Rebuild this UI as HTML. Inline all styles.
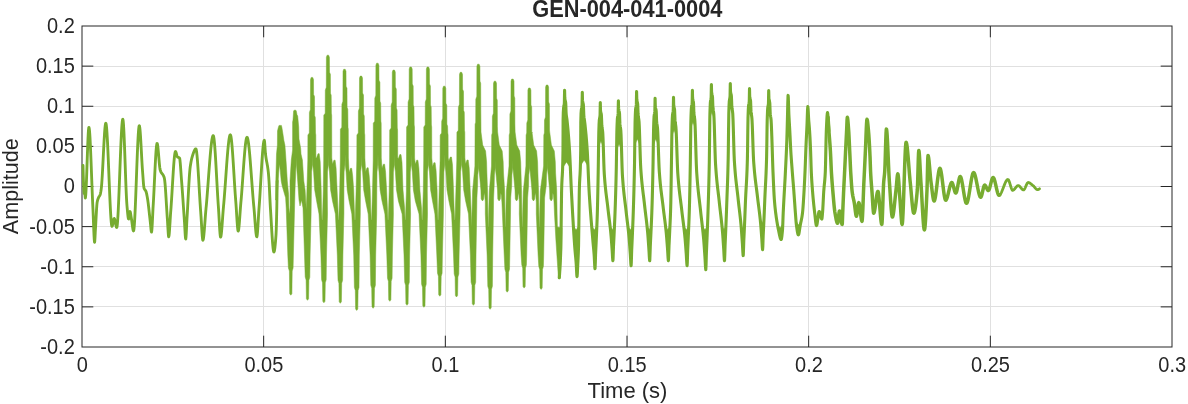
<!DOCTYPE html>
<html lang="en"><head><meta charset="utf-8"><title>GEN-004-041-0004</title>
<style>
html,body{margin:0;padding:0;background:#fff;}
body{width:1188px;height:404px;overflow:hidden;}
svg{display:block;}
text{font-family:"Liberation Sans",Arial,Helvetica,sans-serif;fill:#262626;}
.tk{font-size:20px;}
.lb{font-size:22px;}
.tt{font-size:21.8px;font-weight:bold;}
</style></head><body>
<svg width="1188" height="404" viewBox="0 0 1188 404">
<rect x="0" y="0" width="1188" height="404" fill="#ffffff"/>
<g stroke="#e0e0e0" stroke-width="1" shape-rendering="crispEdges">
<line x1="263.67" y1="26" x2="263.67" y2="347"/>
<line x1="445.33" y1="26" x2="445.33" y2="347"/>
<line x1="627.0" y1="26" x2="627.0" y2="347"/>
<line x1="808.67" y1="26" x2="808.67" y2="347"/>
<line x1="990.33" y1="26" x2="990.33" y2="347"/>
<line x1="82" y1="66.12" x2="1172" y2="66.12"/>
<line x1="82" y1="106.25" x2="1172" y2="106.25"/>
<line x1="82" y1="146.38" x2="1172" y2="146.38"/>
<line x1="82" y1="186.5" x2="1172" y2="186.5"/>
<line x1="82" y1="226.62" x2="1172" y2="226.62"/>
<line x1="82" y1="266.75" x2="1172" y2="266.75"/>
<line x1="82" y1="306.88" x2="1172" y2="306.88"/>
</g>
<g stroke="#262626" stroke-width="1" fill="none">
<rect x="82.0" y="26.0" width="1090" height="321"/>
<line x1="263.67" y1="347" x2="263.67" y2="335.7"/>
<line x1="263.67" y1="26" x2="263.67" y2="37.3"/>
<line x1="445.33" y1="347" x2="445.33" y2="335.7"/>
<line x1="445.33" y1="26" x2="445.33" y2="37.3"/>
<line x1="627.0" y1="347" x2="627.0" y2="335.7"/>
<line x1="627.0" y1="26" x2="627.0" y2="37.3"/>
<line x1="808.67" y1="347" x2="808.67" y2="335.7"/>
<line x1="808.67" y1="26" x2="808.67" y2="37.3"/>
<line x1="990.33" y1="347" x2="990.33" y2="335.7"/>
<line x1="990.33" y1="26" x2="990.33" y2="37.3"/>
<line x1="82" y1="66.12" x2="93.3" y2="66.12"/>
<line x1="1172" y1="66.12" x2="1160.7" y2="66.12"/>
<line x1="82" y1="106.25" x2="93.3" y2="106.25"/>
<line x1="1172" y1="106.25" x2="1160.7" y2="106.25"/>
<line x1="82" y1="146.38" x2="93.3" y2="146.38"/>
<line x1="1172" y1="146.38" x2="1160.7" y2="146.38"/>
<line x1="82" y1="186.5" x2="93.3" y2="186.5"/>
<line x1="1172" y1="186.5" x2="1160.7" y2="186.5"/>
<line x1="82" y1="226.62" x2="93.3" y2="226.62"/>
<line x1="1172" y1="226.62" x2="1160.7" y2="226.62"/>
<line x1="82" y1="266.75" x2="93.3" y2="266.75"/>
<line x1="1172" y1="266.75" x2="1160.7" y2="266.75"/>
<line x1="82" y1="306.88" x2="93.3" y2="306.88"/>
<line x1="1172" y1="306.88" x2="1160.7" y2="306.88"/>
</g>
<polyline fill="none" stroke="#77ac30" stroke-width="2.85" stroke-linejoin="round" stroke-linecap="round" points="83.00,165.50 83.25,174.98 83.50,182.59 83.70,187.00 83.75,187.91 84.00,192.07 84.20,193.50 84.25,193.37 84.50,190.97 84.60,190.50 84.75,191.39 85.00,195.05 85.25,197.89 85.30,198.00 85.50,197.37 85.75,194.97 86.00,191.03 86.25,185.85 86.50,179.70 86.75,172.87 87.00,165.64 87.25,158.30 87.50,151.13 87.75,144.41 88.00,138.43 88.25,133.47 88.50,129.82 88.75,127.76 88.90,127.40 89.00,127.50 89.25,128.58 89.50,130.76 89.75,133.92 90.00,137.94 90.25,142.70 90.50,148.08 90.75,153.96 91.00,160.23 91.25,166.77 91.50,173.45 91.75,180.16 92.00,186.78 92.25,193.19 92.50,199.28 92.75,204.91 92.89,207.83 93.00,210.18 93.25,216.29 93.50,222.95 93.75,229.50 94.00,235.30 94.25,239.71 94.50,242.07 94.60,242.30 94.75,241.49 95.00,237.57 95.25,232.50 95.38,230.21 95.50,228.27 95.75,223.86 96.00,219.16 96.25,214.48 96.50,210.11 96.75,206.34 97.00,203.46 97.20,202.00 97.25,201.75 97.50,200.63 97.75,199.73 98.00,198.98 98.25,198.33 98.50,197.74 98.60,197.50 98.75,197.17 99.00,196.71 99.25,196.33 99.50,195.95 99.75,195.54 100.00,195.02 100.20,194.50 100.25,194.35 100.50,193.34 100.75,192.00 101.00,190.41 101.20,189.00 101.25,188.62 101.50,186.30 101.75,183.31 102.00,179.76 102.25,175.74 102.50,171.35 102.75,166.68 103.00,161.82 103.25,156.87 103.50,151.93 103.75,147.08 104.00,142.43 104.25,138.07 104.50,134.08 104.75,130.58 105.00,127.64 105.25,125.38 105.50,123.87 105.75,123.22 105.80,123.20 106.00,123.51 106.25,124.75 106.50,126.85 106.75,129.72 107.00,133.29 107.25,137.48 107.50,142.20 107.75,147.38 108.00,152.93 108.25,158.77 108.50,164.83 108.75,171.01 109.00,177.24 109.25,183.44 109.50,189.53 109.75,195.42 110.00,201.04 110.25,206.30 110.50,211.12 110.75,215.42 111.00,219.12 111.25,222.14 111.50,224.40 111.75,225.81 112.00,226.30 112.25,226.02 112.50,225.27 112.75,224.20 113.00,222.93 113.25,221.61 113.50,220.37 113.75,219.35 114.00,218.68 114.20,218.50 114.25,218.51 114.50,218.86 114.75,219.62 115.00,220.67 115.25,221.93 115.50,223.27 115.75,224.59 116.00,225.78 116.25,226.73 116.50,227.34 116.70,227.50 116.75,227.48 117.00,226.74 117.25,225.02 117.50,222.41 117.75,218.99 118.00,214.85 118.25,210.09 118.50,204.80 118.75,199.05 119.00,192.95 119.25,186.58 119.50,180.04 119.75,173.40 120.00,166.76 120.25,160.22 120.50,153.85 120.75,147.75 121.00,142.00 121.25,136.71 121.50,131.95 121.75,127.81 122.00,124.39 122.25,121.78 122.50,120.06 122.75,119.32 122.80,119.30 123.00,119.77 123.25,121.60 123.50,124.66 123.75,128.78 124.00,133.81 124.25,139.58 124.50,145.93 124.75,152.70 125.00,159.74 125.25,166.87 125.50,173.94 125.75,180.78 126.00,187.24 126.25,193.15 126.50,198.36 126.75,202.69 127.00,206.00 127.25,208.80 127.50,211.60 127.75,214.21 128.00,216.43 128.25,218.06 128.50,218.92 128.60,219.00 128.75,218.76 129.00,217.51 129.25,215.65 129.50,213.69 129.75,212.13 130.00,211.50 130.25,211.92 130.50,213.01 130.75,214.51 131.00,216.17 131.25,217.72 131.30,218.00 131.50,219.19 131.75,220.92 132.00,222.83 132.25,224.78 132.50,226.66 132.75,228.33 133.00,229.67 133.25,230.57 133.50,230.90 133.75,230.33 134.00,228.69 134.25,226.08 134.50,222.60 134.75,218.35 135.00,213.43 135.25,207.95 135.50,202.00 135.75,195.69 136.00,189.11 136.25,182.38 136.50,175.58 136.75,168.82 137.00,162.21 137.25,155.84 137.50,149.81 137.75,144.22 138.00,139.19 138.25,134.79 138.50,131.15 138.75,128.36 139.00,126.52 139.25,125.72 139.30,125.70 139.50,126.05 139.75,127.39 140.00,129.61 140.25,132.58 140.50,136.16 140.75,140.22 141.00,144.63 141.25,149.24 141.50,153.92 141.75,158.55 142.00,162.97 142.25,167.07 142.50,170.71 142.60,172.00 142.75,173.95 143.00,177.45 143.25,180.95 143.50,184.11 143.75,186.57 144.00,188.00 144.25,188.69 144.50,189.20 144.75,189.58 145.00,189.89 145.25,190.19 145.50,190.52 145.75,190.94 146.00,191.50 146.25,192.27 146.50,193.24 146.75,194.39 147.00,195.68 147.25,197.06 147.50,198.50 147.75,200.07 148.00,201.83 148.25,203.77 148.50,205.84 148.75,208.02 149.00,210.27 149.25,212.57 149.50,214.88 149.75,217.18 150.00,219.43 150.25,221.60 150.30,222.02 150.50,223.93 150.75,226.69 151.00,229.33 151.25,231.32 151.50,232.10 151.75,231.01 152.00,228.09 152.25,223.86 152.50,218.86 152.75,213.60 153.00,208.61 153.18,205.49 153.25,204.36 153.50,200.04 153.75,195.34 154.00,190.35 154.25,185.18 154.50,179.91 154.75,174.65 155.00,169.49 155.25,164.53 155.50,159.87 155.75,155.59 156.00,151.81 156.25,148.61 156.50,146.09 156.75,144.35 157.00,143.48 157.10,143.40 157.25,143.56 157.50,144.47 157.75,146.07 158.00,148.22 158.25,150.79 158.50,153.64 158.75,156.64 159.00,159.65 159.25,162.54 159.50,165.17 159.75,167.40 160.00,169.11 160.20,170.00 160.25,170.16 160.50,170.89 160.75,171.52 161.00,172.05 161.25,172.50 161.50,172.89 161.75,173.24 162.00,173.56 162.25,173.87 162.50,174.18 162.75,174.51 163.00,174.88 163.25,175.30 163.50,175.79 163.75,176.36 164.00,177.03 164.25,177.83 164.30,178.00 164.50,178.95 164.75,180.79 165.00,183.24 165.25,186.23 165.50,189.64 165.75,193.38 166.00,197.36 166.25,201.48 166.50,205.63 166.75,209.73 167.00,213.68 167.25,217.37 167.38,219.16 167.50,220.90 167.75,225.10 168.00,229.51 168.25,233.40 168.50,236.05 168.70,236.80 168.75,236.77 169.00,235.77 169.25,233.58 169.50,230.47 169.75,226.73 170.00,222.64 170.25,218.48 170.50,214.53 170.74,211.21 170.75,211.08 171.00,207.78 171.25,204.20 171.50,200.40 171.75,196.42 172.00,192.33 172.25,188.17 172.50,183.99 172.75,179.85 173.00,175.79 173.25,171.88 173.50,168.15 173.75,164.67 174.00,161.49 174.25,158.65 174.50,156.22 174.75,154.23 175.00,152.75 175.25,151.82 175.50,151.50 175.75,151.71 176.00,152.28 176.25,153.09 176.50,154.04 176.75,155.01 177.00,155.90 177.25,156.60 177.50,157.00 177.75,157.18 178.00,157.30 178.25,157.40 178.50,157.47 178.75,157.55 179.00,157.65 179.25,157.80 179.50,158.00 179.75,158.79 180.00,160.56 180.25,163.09 180.50,166.18 180.75,169.62 181.00,173.21 181.25,176.74 181.50,180.00 181.75,183.13 182.00,186.40 182.25,189.79 182.50,193.26 182.75,196.81 183.00,200.42 183.25,204.07 183.50,207.73 183.75,211.38 184.00,215.02 184.25,218.61 184.44,221.30 184.50,222.18 184.75,226.46 185.00,231.11 185.25,235.29 185.50,238.18 185.70,239.00 185.75,238.94 186.00,237.10 186.25,233.29 186.50,228.32 186.75,223.03 187.00,218.23 187.05,217.40 187.25,214.10 187.50,209.72 187.75,205.14 188.00,200.44 188.25,195.71 188.50,191.03 188.75,186.48 189.00,182.15 189.25,178.12 189.50,174.47 189.75,171.29 190.00,168.66 190.20,167.00 190.25,166.64 190.50,164.95 190.75,163.40 191.00,161.99 191.25,160.70 191.50,159.53 191.75,158.46 192.00,157.49 192.25,156.61 192.50,155.80 192.60,155.50 192.75,155.05 193.00,154.30 193.25,153.56 193.50,152.83 193.75,152.12 194.00,151.46 194.25,150.84 194.50,150.29 194.75,149.80 195.00,149.40 195.25,149.09 195.50,148.89 195.75,148.80 195.80,148.80 196.00,149.00 196.25,149.80 196.50,151.16 196.75,153.03 197.00,155.36 197.25,158.10 197.50,161.21 197.75,164.63 198.00,168.32 198.25,172.23 198.50,176.31 198.75,180.50 199.00,184.77 199.25,189.06 199.50,193.32 199.75,197.51 200.00,201.57 200.25,205.46 200.50,209.13 200.75,212.52 200.77,212.78 201.00,216.03 201.25,220.04 201.50,224.29 201.75,228.53 202.00,232.48 202.25,235.87 202.50,238.45 202.75,239.94 202.90,240.20 203.00,240.14 203.25,239.44 203.50,238.06 203.75,236.10 204.00,233.66 204.25,230.84 204.50,227.73 204.75,224.44 205.00,221.06 205.25,217.70 205.50,214.46 205.75,211.43 205.99,208.82 206.00,208.72 206.25,206.09 206.50,203.30 206.75,200.37 207.00,197.33 207.25,194.18 207.50,190.95 207.75,187.65 208.00,184.30 208.25,180.93 208.50,177.55 208.75,174.17 209.00,170.82 209.25,167.51 209.50,164.27 209.75,161.11 210.00,158.04 210.25,155.10 210.50,152.29 210.75,149.64 211.00,147.15 211.25,144.86 211.50,142.78 211.75,140.93 212.00,139.32 212.25,137.97 212.50,136.91 212.75,136.15 213.00,135.71 213.20,135.60 213.25,135.61 213.50,136.06 213.75,137.12 214.00,138.73 214.25,140.85 214.50,143.43 214.75,146.42 215.00,149.78 215.25,153.45 215.50,157.40 215.75,161.56 216.00,165.90 216.25,170.36 216.50,174.90 216.75,179.47 217.00,184.02 217.25,188.51 217.50,192.88 217.75,197.09 218.00,201.08 218.25,204.82 218.38,206.65 218.50,208.38 218.75,212.43 219.00,216.87 219.25,221.43 219.50,225.85 219.75,229.88 220.00,233.25 220.25,235.71 220.50,236.98 220.60,237.10 220.75,236.94 221.00,236.02 221.25,234.38 221.50,232.14 221.75,229.41 222.00,226.31 222.25,222.96 222.50,219.48 222.75,215.97 223.00,212.57 223.25,209.38 223.50,206.52 223.51,206.41 223.75,203.79 224.00,200.90 224.25,197.85 224.50,194.67 224.75,191.38 225.00,188.00 225.25,184.56 225.50,181.07 225.75,177.56 226.00,174.05 226.25,170.56 226.50,167.11 226.75,163.71 227.00,160.41 227.25,157.21 227.50,154.13 227.75,151.21 228.00,148.45 228.25,145.88 228.50,143.53 228.75,141.41 229.00,139.55 229.25,137.96 229.50,136.67 229.75,135.70 230.00,135.07 230.25,134.81 230.30,134.80 230.50,134.97 230.75,135.66 231.00,136.82 231.25,138.44 231.50,140.46 231.75,142.85 232.00,145.58 232.25,148.61 232.50,151.89 232.75,155.40 233.00,159.09 233.25,162.93 233.50,166.88 233.75,170.91 234.00,174.96 234.25,179.02 234.50,183.04 234.75,186.98 235.00,190.80 235.25,194.48 235.50,197.96 235.75,201.22 235.83,202.21 236.00,204.42 236.25,208.08 236.50,212.03 236.75,216.09 237.00,220.04 237.25,223.68 237.50,226.80 237.75,229.21 238.00,230.71 238.20,231.10 238.25,231.08 238.50,230.41 238.75,228.91 239.00,226.71 239.25,223.97 239.50,220.81 239.75,217.39 240.00,213.86 240.25,210.34 240.50,206.99 240.75,203.95 240.84,202.96 241.00,201.21 241.25,198.32 241.50,195.25 241.75,192.04 242.00,188.71 242.25,185.28 242.50,181.78 242.75,178.25 243.00,174.69 243.25,171.15 243.50,167.65 243.75,164.21 244.00,160.86 244.25,157.63 244.50,154.54 244.75,151.62 245.00,148.90 245.25,146.39 245.50,144.14 245.75,142.16 246.00,140.48 246.25,139.13 246.50,138.13 246.75,137.51 247.00,137.30 247.25,137.48 247.50,138.01 247.75,138.87 248.00,140.04 248.25,141.50 248.50,143.23 248.75,145.21 249.00,147.41 249.25,149.83 249.50,152.43 249.75,155.20 250.00,158.12 250.25,161.16 250.50,164.31 250.75,167.55 251.00,170.85 251.25,174.20 251.50,177.58 251.75,180.96 252.00,184.33 252.25,187.67 252.50,190.95 252.75,194.15 253.00,197.26 253.25,200.25 253.50,203.11 253.75,205.82 253.86,206.95 254.00,208.44 254.25,211.37 254.50,214.55 254.75,217.89 255.00,221.27 255.25,224.58 255.50,227.71 255.75,230.54 256.00,232.98 256.25,234.91 256.50,236.21 256.75,236.78 256.80,236.80 257.00,236.36 257.25,234.72 257.50,232.07 257.75,228.66 258.00,224.72 258.25,220.50 258.50,216.23 258.75,212.16 259.00,208.51 259.05,207.85 259.25,205.18 259.50,201.61 259.75,197.80 260.00,193.82 260.25,189.69 260.50,185.46 260.75,181.19 261.00,176.90 261.25,172.65 261.50,168.48 261.75,164.43 262.00,160.55 262.25,156.88 262.50,153.46 262.75,150.34 263.00,147.56 263.25,145.16 263.50,143.20 263.75,141.71 264.00,140.73 264.25,140.31 264.30,140.30 264.50,141.08 264.75,143.73 265.00,147.39 265.25,151.13 265.50,154.00 265.75,155.99 266.00,157.73 266.25,159.27 266.50,160.67 266.75,161.99 267.00,163.30 267.25,164.64 267.50,166.08 267.75,167.67 268.00,169.47 268.25,171.55 268.30,172.00 268.50,174.11 268.75,177.34 269.00,181.00 269.25,185.25 269.50,190.19 269.75,195.46 270.00,200.68 270.25,205.48 270.40,208.00 270.50,209.59 270.75,213.68 271.00,217.90 271.25,222.17 271.50,226.42 271.75,230.58 272.00,234.58 272.25,238.34 272.50,241.79 272.75,244.85 273.00,247.47 273.25,249.55 273.50,251.04 273.75,251.86 273.90,252.00 274.00,251.95 274.25,251.44 274.50,250.39 274.75,248.84 275.00,246.84 275.25,244.41 275.50,241.60 275.75,238.45 276.00,235.00 276.25,229.55 276.50,221.01 276.75,210.31 276.80,208.00 277.00,196.10 277.20,181.00"/>
<polyline fill="none" stroke="#77ac30" stroke-width="3.1" stroke-linejoin="round" stroke-linecap="round" points="559.30,277.80 559.55,274.31 559.80,270.25 560.05,265.75 560.10,264.80 560.30,261.08 560.55,255.92 560.80,248.80 561.05,233.67 561.30,211.95 561.55,193.45 561.60,191.00 561.80,184.07 562.05,178.90 562.30,175.16 562.55,170.23 562.80,161.49 563.00,150.00 563.05,134.81 563.10,120.00 563.30,112.35 563.55,108.53 563.60,108.00 563.80,106.49 564.05,105.44 564.30,103.62 564.35,103.00 564.55,91.51 564.60,90.30 564.80,98.00 564.80,98.00 565.05,99.95 565.30,100.83 565.55,101.84 565.70,103.00 565.80,104.88 566.05,112.14 566.10,113.00 566.30,115.11 566.55,116.90 566.80,118.45 567.00,120.00 567.05,120.46 567.30,122.82 567.55,125.30 567.80,127.91 568.05,130.66 568.30,133.56 568.55,136.63 568.80,139.88 569.05,143.31 569.30,146.94 569.50,150.00 569.55,150.80 569.80,155.31 570.05,160.50 570.30,166.16 570.55,172.07 570.80,178.00 571.05,183.73 571.30,189.04 571.40,191.00 571.55,193.84 571.80,198.54 572.05,203.18 572.30,207.74 572.55,212.23 572.80,216.62 573.05,220.92 573.30,225.12 573.55,229.20 573.80,233.16 574.05,236.99 574.30,240.68 574.55,244.22 574.80,247.60 575.05,250.68 575.30,253.43 575.55,256.05 575.80,258.72 576.05,261.65 576.20,263.60 576.30,265.20 576.55,270.40 576.80,275.08 577.00,276.60 577.05,276.51 577.30,273.83 577.55,268.87 577.80,263.60 578.05,258.93 578.30,253.48 578.50,247.60 578.55,245.59 578.80,228.71 579.05,207.38 579.30,191.00 579.55,182.82 579.80,178.10 580.05,174.26 580.30,168.74 580.55,158.97 580.70,150.00 580.80,122.10 581.05,113.38 581.30,110.10 581.55,108.35 581.80,107.30 582.05,105.10 582.30,92.40 582.50,100.10 582.55,100.63 582.80,102.28 583.05,103.09 583.30,104.26 583.40,105.10 583.55,108.40 583.80,115.10 584.05,117.63 584.30,119.34 584.55,120.92 584.70,122.10 584.80,122.99 585.05,125.27 585.30,127.61 585.55,130.04 585.80,132.58 586.05,135.26 586.30,138.10 586.55,141.12 586.80,144.35 587.05,147.81 587.20,150.00 587.30,151.58 587.55,156.26 587.80,161.70 588.05,167.62 588.30,173.72 588.55,179.71 588.80,185.28 589.05,190.14 589.10,191.00 589.30,194.29 589.55,198.23 589.80,201.99 590.05,205.60 590.30,209.06 590.55,212.39 590.80,215.62 591.05,218.76 591.30,221.83 591.55,224.84 591.80,227.82 592.05,230.77 592.30,233.73 592.55,236.70 592.80,239.70 593.05,242.59 593.30,245.30 593.55,247.97 593.80,250.73 594.05,253.73 594.20,255.70 594.30,257.30 594.55,262.50 594.80,267.18 595.00,268.70 595.05,268.49 595.30,262.95 595.55,255.01 595.60,253.74 595.80,249.36 596.05,244.19 596.30,238.78 596.55,233.19 596.80,227.52 597.05,221.25 597.30,213.85 597.55,204.55 597.80,193.24 598.05,180.46 598.20,172.30 598.30,165.98 598.55,146.89 598.80,132.20 599.05,124.70 599.30,120.20 599.55,118.45 599.80,117.40 600.05,115.20 600.30,102.50 600.50,110.20 600.55,110.73 600.80,112.38 601.05,113.19 601.30,114.36 601.40,115.20 601.55,118.50 601.80,125.20 602.05,127.60 602.30,129.12 602.55,130.75 602.70,132.20 602.80,133.60 603.05,138.99 603.30,146.27 603.55,154.44 603.80,162.47 604.05,169.37 604.27,173.69 604.30,174.15 604.55,177.66 604.80,180.87 605.05,183.79 605.30,186.46 605.55,188.93 605.80,191.22 606.05,193.37 606.30,195.41 606.55,197.37 606.80,199.30 607.05,201.22 607.30,203.17 607.55,205.18 607.80,207.29 607.94,208.49 608.05,209.51 608.30,211.66 608.55,213.72 608.80,215.73 609.05,217.71 609.30,219.68 609.55,221.68 609.80,223.72 610.05,225.84 610.30,228.07 610.55,230.42 610.80,232.92 610.88,233.81 611.05,235.66 611.30,238.72 611.55,242.02 611.80,245.44 612.05,248.87 612.11,249.63 612.30,252.77 612.55,257.30 612.80,260.37 612.90,260.70 613.05,259.07 613.30,252.01 613.50,246.30 613.55,245.21 613.80,240.08 614.05,235.08 614.20,231.90 614.30,229.70 614.55,224.17 614.80,218.38 615.05,212.06 615.20,207.90 615.30,204.98 615.55,197.22 615.80,188.63 616.05,178.94 616.30,167.90 616.55,151.86 616.80,134.90 616.90,130.40 617.05,125.63 617.30,119.79 617.40,118.40 617.55,117.16 617.80,116.05 618.05,114.53 618.15,113.40 618.30,104.85 618.40,100.70 618.55,106.87 618.60,108.40 618.80,110.09 619.05,111.08 619.30,111.97 619.50,113.40 619.55,114.14 619.80,121.31 619.90,123.40 620.05,125.00 620.30,126.75 620.55,128.21 620.80,130.40 621.05,134.87 621.30,141.79 621.55,150.13 621.80,158.83 622.05,166.86 622.30,173.15 622.40,174.95 622.55,177.20 622.80,180.70 623.05,183.88 623.30,186.79 623.55,189.46 623.80,191.93 624.05,194.23 624.30,196.40 624.55,198.47 624.80,200.47 625.05,202.45 625.30,204.44 625.55,206.48 625.80,208.59 626.05,210.82 626.10,211.25 626.30,213.11 626.55,215.30 626.80,217.41 627.05,219.47 627.30,221.52 627.55,223.56 627.80,225.64 628.05,227.78 628.30,230.00 628.55,232.34 628.80,234.81 629.05,237.45 629.07,237.65 629.30,240.37 629.55,243.61 629.80,247.07 630.05,250.62 630.30,254.15 630.30,254.15 630.55,258.48 630.80,263.03 631.05,265.61 631.10,265.70 631.30,262.71 631.55,254.52 631.70,250.03 631.80,247.68 632.05,242.18 632.30,236.70 632.40,234.36 632.55,230.77 632.80,224.72 633.05,218.33 633.30,211.30 633.40,208.25 633.55,203.46 633.80,194.96 634.05,185.48 634.30,174.63 634.50,164.72 634.55,161.79 634.80,141.72 635.05,123.44 635.10,121.30 635.30,115.04 635.55,109.92 635.60,109.30 635.80,107.79 636.05,106.74 636.30,104.92 636.35,104.30 636.55,92.81 636.60,91.60 636.80,99.30 636.80,99.30 637.05,101.25 637.30,102.13 637.55,103.14 637.70,104.30 637.80,106.18 638.05,113.44 638.10,114.30 638.30,116.33 638.55,117.95 638.80,119.48 639.00,121.30 639.05,121.93 639.30,126.70 639.55,133.52 639.80,141.55 640.05,149.94 640.30,157.83 640.55,164.36 640.73,167.69 640.80,168.80 641.05,172.34 641.30,175.59 641.55,178.56 641.80,181.30 642.05,183.84 642.30,186.20 642.55,188.43 642.80,190.54 643.05,192.58 643.30,194.58 643.55,196.56 643.80,198.56 644.05,200.61 644.30,202.75 644.54,204.90 644.55,205.00 644.80,207.25 645.05,209.41 645.30,211.50 645.55,213.55 645.80,215.58 646.05,217.61 646.30,219.68 646.55,221.80 646.80,224.01 647.05,226.32 647.30,228.77 647.55,231.37 647.60,231.95 647.80,234.21 648.05,237.38 648.30,240.78 648.55,244.30 648.80,247.82 648.87,248.86 649.05,251.74 649.30,256.44 649.55,259.98 649.70,260.70 649.80,259.93 650.05,253.50 650.30,246.09 650.30,246.09 650.55,240.79 650.80,235.75 651.00,231.49 651.05,230.37 651.30,224.86 651.55,219.14 651.80,212.85 652.00,207.14 652.05,205.59 652.30,197.09 652.55,187.33 652.80,176.29 653.00,166.57 653.05,163.81 653.30,146.12 653.55,130.11 653.60,128.10 653.80,121.92 654.05,116.72 654.10,116.10 654.30,114.59 654.55,113.54 654.80,111.72 654.85,111.10 655.05,99.61 655.10,98.40 655.30,106.10 655.30,106.10 655.55,108.05 655.80,108.93 656.05,109.94 656.20,111.10 656.30,112.98 656.55,120.24 656.60,121.10 656.80,123.14 657.05,124.78 657.30,126.31 657.50,128.10 657.55,128.71 657.80,133.07 658.05,139.15 658.30,146.27 658.55,153.75 658.80,160.91 659.05,167.08 659.29,171.44 659.30,171.58 659.55,174.96 659.80,178.06 660.05,180.92 660.30,183.56 660.55,186.01 660.80,188.30 661.05,190.46 661.30,192.50 661.55,194.47 661.80,196.39 662.05,198.29 662.30,200.19 662.55,202.12 662.80,204.11 663.05,206.19 663.16,207.14 663.30,208.35 663.55,210.43 663.80,212.44 664.05,214.39 664.30,216.32 664.55,218.23 664.80,220.17 665.05,222.14 665.30,224.17 665.55,226.29 665.80,228.52 666.05,230.88 666.27,233.11 666.30,233.40 666.55,236.20 666.80,239.27 667.05,242.53 667.30,245.86 667.55,249.18 667.56,249.34 667.80,253.16 668.05,257.52 668.30,260.39 668.40,260.70 668.55,259.04 668.80,251.83 669.00,246.00 669.05,244.89 669.30,239.65 669.55,234.55 669.70,231.31 669.80,229.12 670.05,223.89 670.30,218.36 670.55,211.70 670.70,206.81 670.80,202.71 671.05,188.68 671.30,172.33 671.40,165.99 671.55,155.69 671.80,137.52 672.00,127.10 672.05,125.41 672.30,118.45 672.50,115.10 672.55,114.61 672.80,113.14 673.05,112.01 673.25,110.10 673.30,108.35 673.50,97.40 673.55,98.49 673.70,105.10 673.80,106.09 674.05,107.47 674.30,108.25 674.55,109.64 674.60,110.10 674.80,114.96 675.00,120.10 675.05,120.70 675.30,122.87 675.55,124.35 675.80,126.11 675.90,127.10 676.05,129.19 676.30,134.25 676.55,140.76 676.80,148.10 677.05,155.65 677.30,162.79 677.55,168.90 677.78,173.13 677.80,173.36 678.05,176.77 678.30,179.91 678.55,182.82 678.80,185.50 679.05,188.00 679.30,190.34 679.55,192.54 679.80,194.63 680.05,196.64 680.30,198.60 680.55,200.53 680.80,202.46 681.05,204.41 681.30,206.41 681.55,208.50 681.74,210.16 681.80,210.68 682.05,212.82 682.30,214.88 682.55,216.88 682.80,218.84 683.05,220.78 683.30,222.73 683.55,224.71 683.80,226.74 684.05,228.84 684.30,231.04 684.55,233.36 684.80,235.81 684.92,237.09 685.05,238.45 685.30,241.41 685.55,244.60 685.80,247.94 686.05,251.33 686.24,253.92 686.30,254.72 686.55,259.05 686.80,263.28 687.05,265.62 687.10,265.70 687.30,262.69 687.55,254.43 687.70,249.91 687.80,247.55 688.05,242.01 688.30,236.48 688.40,234.13 688.55,230.57 688.80,224.68 689.05,218.39 689.30,211.12 689.40,207.82 689.55,202.23 689.80,191.15 690.05,178.25 690.30,163.97 690.55,144.55 690.80,124.91 690.90,120.00 691.05,115.13 691.30,109.37 691.40,108.00 691.55,106.76 691.80,105.65 692.05,104.13 692.15,103.00 692.30,94.45 692.40,90.30 692.55,96.47 692.60,98.00 692.80,99.69 693.05,100.68 693.30,101.57 693.50,103.00 693.55,103.74 693.80,110.91 693.90,113.00 694.05,114.61 694.30,116.36 694.55,117.83 694.80,120.00 695.05,124.28 695.30,130.87 695.55,138.94 695.80,147.69 696.05,156.29 696.30,163.93 696.55,169.80 696.62,171.03 696.80,173.77 697.05,177.31 697.30,180.57 697.55,183.57 697.80,186.33 698.05,188.91 698.30,191.31 698.55,193.59 698.80,195.76 699.05,197.87 699.30,199.93 699.55,201.99 699.80,204.07 700.05,206.21 700.30,208.44 700.52,210.50 700.55,210.78 700.80,213.11 701.05,215.35 701.30,217.51 701.55,219.64 701.80,221.74 702.05,223.85 702.30,225.99 702.55,228.18 702.80,230.46 703.05,232.84 703.30,235.35 703.55,238.02 703.66,239.20 703.80,240.90 704.05,244.12 704.30,247.60 704.55,251.22 704.80,254.88 704.96,257.14 705.05,258.64 705.30,263.44 705.55,267.80 705.80,269.70 706.05,264.99 706.30,256.05 706.40,253.03 706.55,249.33 706.80,243.54 707.05,237.62 707.10,236.36 707.30,231.24 707.55,224.66 707.80,217.70 708.05,210.18 708.10,208.58 708.30,202.20 708.55,194.00 708.80,185.01 709.05,174.64 709.30,162.28 709.55,141.79 709.80,119.53 709.90,114.20 710.05,109.28 710.30,103.56 710.40,102.20 710.55,100.96 710.80,99.85 711.05,98.33 711.15,97.20 711.30,88.65 711.40,84.50 711.55,90.67 711.60,92.20 711.80,93.89 712.05,94.88 712.30,95.77 712.50,97.20 712.55,97.94 712.80,105.11 712.90,107.20 713.05,108.80 713.30,110.55 713.55,112.01 713.80,114.20 714.05,118.63 714.30,125.54 714.55,133.97 714.80,142.99 715.05,151.65 715.30,159.02 715.53,163.79 715.55,164.16 715.80,167.95 716.05,171.41 716.30,174.58 716.55,177.48 716.80,180.17 717.05,182.66 717.30,185.00 717.55,187.22 717.80,189.35 718.05,191.42 718.30,193.48 718.55,195.55 718.80,197.67 719.05,199.87 719.30,202.18 719.34,202.55 719.55,204.55 719.80,206.82 720.05,209.01 720.30,211.15 720.55,213.26 720.80,215.38 721.05,217.52 721.30,219.72 721.55,222.00 721.80,224.38 722.05,226.90 722.30,229.58 722.40,230.75 722.55,232.48 722.80,235.72 723.05,239.22 723.30,242.87 723.55,246.55 723.67,248.37 723.80,250.43 724.05,255.31 724.30,259.41 724.50,260.70 724.55,260.48 724.80,254.57 725.05,246.10 725.10,244.75 725.30,240.08 725.55,234.57 725.80,228.80 726.05,222.56 726.30,216.05 726.55,209.28 726.80,202.22 727.05,195.36 727.30,188.76 727.55,181.82 727.80,173.94 728.05,164.54 728.20,157.92 728.30,151.85 728.55,130.21 728.80,113.20 729.05,105.64 729.30,101.20 729.55,99.45 729.80,98.40 730.05,96.20 730.30,83.50 730.50,91.20 730.55,91.73 730.80,93.38 731.05,94.19 731.30,95.36 731.40,96.20 731.55,99.50 731.80,106.20 732.05,108.60 732.30,110.11 732.55,111.74 732.70,113.20 732.80,114.63 733.05,120.25 733.30,127.99 733.55,136.83 733.80,145.76 734.05,153.77 734.30,159.83 734.36,160.94 734.55,163.81 734.80,167.36 735.05,170.59 735.30,173.55 735.55,176.28 735.80,178.80 736.05,181.15 736.30,183.37 736.55,185.50 736.80,187.56 737.05,189.59 737.30,191.64 737.55,193.72 737.80,195.89 738.05,198.17 738.12,198.81 738.30,200.52 738.55,202.78 738.80,204.96 739.05,207.08 739.30,209.18 739.55,211.28 739.80,213.40 740.05,215.58 740.30,217.85 740.55,220.21 740.80,222.72 741.05,225.38 741.14,226.34 741.30,228.28 741.55,231.53 741.80,235.02 742.05,238.65 742.30,242.30 742.39,243.55 742.55,246.30 742.80,251.15 743.05,254.84 743.20,255.60 743.30,254.81 743.55,248.19 743.80,240.57 743.80,240.57 744.05,235.12 744.30,229.92 744.50,225.54 744.55,224.38 744.80,218.23 745.05,211.79 745.30,205.38 745.50,200.49 745.55,199.33 745.80,194.13 746.05,189.59 746.30,185.29 746.55,180.81 746.80,175.75 747.05,169.69 747.30,162.22 747.40,158.74 747.55,150.34 747.80,130.27 748.00,118.30 748.05,116.60 748.30,109.63 748.50,106.30 748.55,105.81 748.80,104.34 749.05,103.21 749.25,101.30 749.30,99.55 749.50,88.60 749.55,89.69 749.70,96.30 749.80,97.29 750.05,98.67 750.30,99.45 750.55,100.84 750.60,101.30 750.80,106.16 751.00,111.30 751.05,111.90 751.30,114.06 751.55,115.54 751.80,117.30 751.90,118.30 752.05,120.45 752.30,125.75 752.55,132.57 752.80,140.14 753.05,147.71 753.30,154.53 753.55,159.84 753.63,161.05 753.80,163.46 754.05,166.69 754.30,169.66 754.55,172.38 754.80,174.91 755.05,177.25 755.30,179.45 755.55,181.53 755.80,183.53 756.05,185.46 756.30,187.36 756.55,189.27 756.80,191.20 757.05,193.19 757.30,195.27 757.44,196.47 757.55,197.44 757.80,199.55 758.05,201.57 758.30,203.54 758.55,205.48 758.80,207.41 759.05,209.36 759.30,211.34 759.55,213.39 759.80,215.53 760.05,217.78 760.30,220.17 760.50,222.23 760.55,222.71 760.80,225.56 761.05,228.68 761.30,231.97 761.55,235.33 761.77,238.33 761.80,238.67 762.05,242.87 762.30,247.13 762.55,249.52 762.60,249.60 762.80,246.87 763.05,239.39 763.20,235.29 763.30,233.15 763.55,228.12 763.80,223.11 763.90,220.98 764.05,217.61 764.30,211.70 764.55,205.60 764.80,199.51 764.90,197.13 765.05,193.75 765.30,188.67 765.55,183.89 765.80,178.99 766.05,173.53 766.30,167.06 766.55,159.17 766.60,157.38 766.80,146.03 767.05,127.94 767.20,120.30 767.30,117.04 767.55,110.61 767.70,108.30 767.80,107.40 768.05,106.15 768.30,104.86 768.45,103.30 768.55,98.34 768.70,90.60 768.80,94.16 768.90,98.30 769.05,99.67 769.30,100.83 769.55,101.64 769.80,103.30 769.80,103.30 770.05,109.74 770.20,113.30 770.30,114.43 770.55,116.32 770.80,117.74 771.05,119.74 771.10,120.30 771.30,123.77 771.55,129.78 771.60,131.00 771.80,136.24 772.05,143.65 772.30,151.56 772.55,159.46 772.80,166.83 773.00,172.00 773.05,173.19 773.30,179.04 773.55,184.65 773.80,189.87 774.05,194.57 774.30,198.60 774.40,200.00 774.55,201.92 774.80,204.82 775.05,207.39 775.30,209.70 775.55,211.81 775.70,213.00 775.80,213.77 776.05,215.64 776.30,217.43 776.55,219.14 776.80,220.77 777.05,222.33 777.30,223.82 777.55,225.23 777.80,226.58 778.05,227.85 778.30,229.07 778.50,230.00 778.55,230.23 778.80,231.42 779.05,232.65 779.30,233.89 779.55,235.09 779.80,236.23 780.05,237.25 780.30,238.13 780.55,238.82 780.80,239.29 781.05,239.49 781.10,239.50 781.30,239.25 781.55,238.30 781.80,236.73 782.05,234.66 782.30,232.19 782.50,230.00 782.55,229.34 782.80,223.79 783.05,216.72 783.20,213.00 783.30,210.88 783.55,205.83 783.80,201.09 784.05,196.57 784.30,192.17 784.55,187.80 784.80,183.38 785.05,178.81 785.30,174.01 785.40,172.00 785.55,168.97 785.80,163.98 786.05,158.88 786.30,153.48 786.55,147.58 786.80,141.00 787.05,132.85 787.30,123.60 787.40,120.00 787.55,113.85 787.80,102.51 788.05,95.64 788.10,95.40 788.30,97.69 788.55,104.74 788.80,112.58 788.90,115.00 789.05,117.95 789.30,122.37 789.55,126.57 789.80,131.00 790.05,135.99 790.30,141.27 790.55,146.41 790.80,151.00 791.05,154.99 791.30,158.68 791.55,162.15 791.80,165.47 792.05,168.73 792.30,172.00 792.55,175.23 792.80,178.34 793.05,181.39 793.30,184.43 793.55,187.51 793.80,190.69 793.90,192.00 794.05,194.02 794.30,197.52 794.55,201.12 794.80,204.73 795.05,208.29 795.30,211.69 795.40,213.00 795.55,214.98 795.80,218.37 796.05,221.56 796.30,224.18 796.40,225.00 796.55,226.10 796.80,227.91 797.05,229.63 797.30,231.21 797.55,232.58 797.80,233.69 798.05,234.47 798.30,234.86 798.40,234.90 798.55,234.78 798.80,234.12 799.05,233.00 799.30,231.54 799.55,229.87 799.80,228.14 800.05,226.47 800.30,225.00 800.55,223.73 800.80,222.54 801.05,221.39 801.30,220.23 801.55,219.01 801.80,217.69 802.05,216.21 802.30,214.53 802.50,213.00 802.55,212.58 802.80,210.07 803.05,206.95 803.30,203.36 803.55,199.45 803.80,195.34 804.00,192.00 804.05,191.16 804.30,186.65 804.55,181.73 804.80,176.44 805.00,172.00 805.05,170.85 805.30,164.52 805.55,157.70 805.80,150.95 806.00,146.00 806.05,144.85 806.30,139.44 806.55,134.34 806.80,129.26 807.00,125.00 807.05,123.82 807.30,116.56 807.55,109.61 807.80,106.50 808.05,108.37 808.30,112.71 808.55,117.60 808.70,120.00 808.80,121.29 809.05,124.20 809.30,127.03 809.55,130.26 809.60,131.00 809.80,134.24 810.05,138.86 810.30,144.06 810.55,149.79 810.60,151.00 810.80,156.78 811.05,165.10 811.30,172.00 811.55,176.88 811.80,181.12 812.05,184.85 812.30,188.23 812.55,191.38 812.60,192.00 812.80,194.41 813.05,197.28 813.30,200.00 813.55,202.59 813.80,205.04 814.05,207.38 814.30,209.62 814.55,211.76 814.70,213.00 814.80,213.84 815.05,216.11 815.30,218.45 815.55,220.72 815.80,222.73 816.05,224.32 816.30,225.33 816.50,225.60 816.55,225.59 816.80,225.12 817.05,224.08 817.30,222.62 817.55,220.86 817.80,218.94 818.05,216.99 818.30,215.16 818.55,213.56 818.80,212.34 819.05,211.63 819.20,211.50 819.30,211.53 819.55,211.87 819.80,212.51 820.05,213.38 820.30,214.39 820.55,215.47 820.80,216.53 821.05,217.49 821.30,218.27 821.55,218.81 821.80,219.00 822.05,218.00 822.30,215.57 822.55,212.59 822.60,212.00 822.80,209.15 823.05,204.50 823.30,199.36 823.55,194.49 823.70,192.00 823.80,190.58 824.05,187.54 824.30,184.97 824.55,182.49 824.80,179.75 825.05,176.37 825.30,172.00 825.55,163.85 825.80,151.83 826.05,139.65 826.30,131.00 826.55,125.39 826.80,120.23 827.05,116.03 827.30,113.33 827.50,112.60 827.55,112.65 827.80,114.10 828.05,117.15 828.30,121.16 828.55,125.52 828.80,129.59 828.90,131.00"/>
<polyline fill="none" stroke="#77ac30" stroke-width="3.5" stroke-linejoin="round" stroke-linecap="round" points="828.05,117.15 828.30,121.16 828.55,125.52 828.80,129.59 828.90,131.00 829.05,132.94 829.30,136.06 829.55,139.13 829.80,142.29 830.05,145.66 830.30,149.39 830.40,151.00 830.55,153.75 830.80,159.19 831.05,164.95 831.30,170.22 831.40,172.00 831.55,174.42 831.80,178.17 832.05,181.63 832.30,184.86 832.55,187.91 832.80,190.84 832.90,192.00 833.05,193.74 833.30,196.66 833.55,199.56 833.80,202.38 834.05,205.06 834.30,207.55 834.55,209.79 834.80,211.72 835.00,213.00 835.05,213.29 835.30,214.73 835.55,216.16 835.80,217.54 836.05,218.83 836.30,220.02 836.55,221.07 836.80,221.96 837.05,222.64 837.30,223.10 837.55,223.29 837.60,223.30 837.80,222.92 838.05,221.56 838.30,219.52 838.55,217.15 838.80,214.78 839.05,212.74 839.30,211.38 839.50,211.00 839.55,211.01 839.80,211.46 840.05,212.44 840.30,213.83 840.55,215.50 840.80,217.33 841.05,219.18 841.30,220.93 841.55,222.44 841.80,223.60 842.05,224.28 842.20,224.40 842.30,223.58 842.55,217.16 842.70,213.00 842.80,210.67 843.05,204.73 843.30,198.78 843.55,193.09 843.60,192.00 843.80,187.81 844.05,182.84 844.30,177.97 844.55,173.02 844.60,172.00 844.80,167.85 845.05,162.56 845.30,157.26 845.55,152.03 845.60,151.00 845.80,146.93 846.05,141.91 846.30,136.94 846.55,131.99 846.60,131.00 846.80,126.27 847.05,120.16 847.30,117.30 847.55,117.96 847.80,119.76 848.05,122.38 848.30,125.55 848.55,128.96 848.70,131.00 848.80,132.46 849.05,136.98 849.30,142.30 849.55,147.82 849.70,151.00 849.80,153.10 850.05,158.63 850.30,164.19 850.55,169.32 850.70,172.00 850.80,173.65 851.05,177.68 851.30,181.51 851.55,185.02 851.80,188.13 852.05,190.73 852.20,192.00 852.30,192.75 852.55,194.41 852.80,195.84 853.05,197.10 853.30,198.25 853.55,199.35 853.80,200.47 854.05,201.66 854.30,203.00 854.55,204.63 854.80,206.55 855.05,208.62 855.30,210.70 855.55,212.63 855.80,214.28 856.05,215.50 856.30,216.14 856.40,216.20 856.55,216.05 856.80,215.20 857.05,213.77 857.30,211.93 857.55,209.87 857.80,207.78 858.05,205.83 858.30,204.21 858.55,203.11 858.80,202.70 859.05,203.02 859.30,203.92 859.55,205.29 859.80,207.01 860.05,209.00 860.30,211.13 860.55,213.30 860.80,215.41 861.05,217.36 861.30,219.02 861.55,220.30 861.80,221.09 862.00,221.30 862.05,221.25 862.30,219.48 862.55,215.62 862.80,210.22 863.05,203.82 863.30,196.98 863.55,190.23 863.80,184.13 863.90,182.00 864.05,178.99 864.30,174.02 864.40,172.00 864.55,168.90 864.80,163.63 865.05,158.31 865.30,153.06 865.40,151.00 865.55,147.70 865.80,141.45 866.05,134.87 866.30,128.67 866.55,123.55 866.80,120.22 867.00,119.30 867.05,119.32 867.30,120.01 867.55,121.51 867.80,123.62 868.05,126.13 868.30,128.84 868.50,131.00 868.55,131.54 868.80,134.62 869.05,138.25 869.30,142.38 869.55,146.93 869.80,151.84 870.00,156.00 870.05,157.13 870.30,164.14 870.55,170.95 870.60,172.00 870.80,175.63 871.05,179.58 871.30,183.06 871.55,186.27 871.80,189.41 872.00,192.00 872.05,192.68 872.30,196.46 872.55,200.58 872.80,204.66 873.05,208.32 873.30,211.19 873.55,212.90 873.70,213.20 873.80,213.16 874.05,212.77 874.30,211.99 874.55,210.88 874.80,209.50 875.05,207.89 875.30,206.12 875.55,204.24 875.80,202.30 876.05,200.36 876.30,198.48 876.55,196.71 876.80,195.10 877.05,193.72 877.30,192.61 877.55,191.83 877.80,191.44 877.90,191.40 878.05,191.54 878.30,192.37 878.55,193.84 878.80,195.86 879.05,198.32 879.30,201.10 879.55,204.12 879.80,207.27 880.05,210.43 880.30,213.51 880.55,216.40 880.80,219.00 881.05,221.21 881.30,222.91 881.55,224.01 881.80,224.40 882.05,222.77 882.30,218.42 882.55,212.18 882.80,204.84 883.05,197.23 883.30,190.16 883.55,184.44 883.70,182.00 883.80,180.77 884.05,178.32 884.30,176.23 884.55,173.85 884.70,172.00 884.80,170.35 885.05,164.25 885.30,156.27 885.55,147.62 885.80,139.47 886.05,133.02 886.30,129.45 886.40,129.10 886.55,129.38 886.80,131.02 887.05,133.92 887.30,137.87 887.55,142.64 887.80,148.02 888.05,153.77 888.30,159.68 888.55,165.54 888.80,171.11 889.05,176.17 889.30,180.52 889.40,182.00 889.55,184.15 889.80,187.92 890.05,191.82 890.30,195.75 890.55,199.63 890.80,203.34 891.05,206.81 891.30,209.92 891.55,212.59 891.80,214.71 892.05,216.19 892.30,216.93 892.40,217.00 892.55,216.91 892.80,216.40 893.05,215.47 893.30,214.18 893.55,212.56 893.80,210.68 894.05,208.57 894.30,206.29 894.55,203.89 894.80,201.41 895.05,198.90 895.30,196.42 895.55,194.01 895.80,191.72 896.00,190.00 896.05,189.57 896.30,187.08 896.55,184.19 896.80,181.20 897.05,178.39 897.30,176.03 897.55,174.40 897.80,173.80 898.05,174.44 898.30,176.21 898.55,178.88 898.80,182.20 899.05,185.96 899.30,189.90 899.55,193.81 899.80,197.45 900.00,200.00 900.05,200.60 900.30,203.94 900.55,207.67 900.80,211.53 901.05,215.29 901.30,218.69 901.55,221.51 901.80,223.48 902.05,224.37 902.10,224.40 902.30,223.80 902.55,221.52 902.80,217.74 903.05,212.71 903.30,206.67 903.55,199.86 903.80,192.52 904.05,184.89 904.30,177.21 904.55,169.73 904.80,162.68 905.05,156.30 905.30,150.84 905.55,146.53 905.80,143.62 906.05,142.34 906.10,142.30 906.30,142.49 906.55,143.23 906.80,144.47 907.05,146.16 907.30,148.24 907.55,150.66 907.80,153.35 908.05,156.26 908.30,159.33 908.55,162.50 908.80,165.73 909.05,168.94 909.30,172.09 909.55,175.12 909.80,177.96 910.05,180.57 910.20,182.00 910.30,182.93 910.55,185.43 910.80,188.12 911.05,190.93 911.30,193.81 911.55,196.69 911.80,199.52 912.05,202.24 912.30,204.79 912.55,207.12 912.80,209.15 913.05,210.83 913.30,212.11 913.55,212.92 913.80,213.20 914.05,213.05 914.30,212.62 914.55,211.91 914.80,210.95 915.05,209.74 915.30,208.30 915.55,206.64 915.80,204.77 916.05,202.71 916.30,200.47 916.55,198.07 916.80,195.52 917.05,192.82 917.30,190.00 917.55,185.07 917.80,177.17 918.05,168.04 918.30,159.39 918.55,152.93 918.80,150.40 919.05,151.26 919.30,153.62 919.55,157.13 919.80,161.48 920.05,166.33 920.30,171.33 920.55,176.16 920.80,180.49 920.90,182.00 921.05,184.23 921.30,188.25 921.55,192.55 921.80,197.02 922.05,201.58 922.30,206.11 922.55,210.53 922.80,214.74 923.05,218.62 923.30,222.09 923.55,225.05 923.80,227.39 924.05,229.01 924.30,229.82 924.40,229.90 924.55,229.70 924.80,228.53 925.05,226.41 925.30,223.46 925.55,219.78 925.80,215.49 926.05,210.71 926.30,205.54 926.55,200.10 926.80,194.51 927.00,190.00 927.05,188.73 927.30,179.24 927.55,167.66 927.80,158.37 928.00,155.50 928.05,155.52 928.30,156.05 928.55,157.25 928.80,159.02 929.05,161.24 929.30,163.80 929.55,166.61 929.80,169.54 930.05,172.50 930.30,175.36 930.55,178.03 930.80,180.40 931.00,182.00 931.05,182.37 931.30,184.27 931.55,186.28 931.80,188.33 932.05,190.39 932.30,192.40 932.55,194.31 932.80,196.07 933.05,197.64 933.30,198.97 933.55,200.00 933.80,200.69 934.05,200.99 934.10,201.00 934.30,200.89 934.55,200.44 934.80,199.69 935.05,198.66 935.30,197.38 935.55,195.89 935.80,194.22 936.05,192.40 936.30,190.45 936.55,188.43 936.80,186.34 937.05,184.23 937.30,182.12 937.55,180.05 937.80,178.06 938.05,176.16 938.30,174.39 938.55,172.79 938.80,171.38 939.05,170.20 939.30,169.28 939.55,168.64 939.80,168.33 939.90,168.30 940.05,168.36 940.30,168.73 940.55,169.41 940.80,170.37 941.05,171.56 941.30,172.98 941.55,174.58 941.80,176.33 942.05,178.20 942.30,180.17 942.55,182.19 942.80,184.25 943.05,186.31 943.30,188.33 943.55,190.30 943.80,192.17 944.05,193.92 944.30,195.52 944.55,196.94 944.80,198.13 945.05,199.09 945.30,199.77 945.55,200.14 945.70,200.20 945.80,200.19 946.05,200.03 946.30,199.72 946.55,199.26 946.80,198.68 947.05,197.98 947.30,197.19 947.55,196.30 947.80,195.35 948.05,194.34 948.30,193.29 948.55,192.22 948.80,191.13 949.05,190.05 949.30,188.98 949.55,187.95 949.80,186.96 950.05,186.03 950.30,185.18 950.55,184.43 950.80,183.77 951.05,183.24 951.30,182.84 951.55,182.59 951.80,182.50 952.05,182.62 952.30,182.96 952.55,183.48 952.80,184.16 953.05,184.96 953.30,185.85 953.55,186.81 953.80,187.80 954.05,188.79 954.30,189.75 954.55,190.64 954.80,191.44 955.05,192.12 955.30,192.64 955.55,192.98 955.80,193.10 956.05,192.95 956.30,192.51 956.55,191.82 956.80,190.92 957.05,189.84 957.30,188.63 957.55,187.31 957.80,185.93 958.05,184.52 958.30,183.11 958.55,181.75 958.80,180.47 959.05,179.31 959.30,178.30 959.55,177.48 959.80,176.89 960.05,176.56 960.20,176.50 960.30,176.52 960.55,176.74 960.80,177.18 961.05,177.83 961.30,178.67 961.55,179.66 961.80,180.81 962.05,182.08 962.30,183.45 962.55,184.90 962.80,186.43 963.05,187.99 963.30,189.58 963.55,191.17 963.80,192.75 964.05,194.29 964.30,195.78 964.55,197.19 964.80,198.50 965.05,199.69 965.30,200.75 965.55,201.66 965.80,202.38 966.05,202.91 966.30,203.22 966.50,203.30 966.55,203.30 966.80,203.14 967.05,202.78 967.30,202.22 967.55,201.48 967.80,200.59 968.05,199.55 968.30,198.38 968.55,197.10 968.80,195.72 969.05,194.26 969.30,192.74 969.55,191.17 969.80,189.57 970.05,187.95 970.30,186.33 970.55,184.73 970.80,183.16 971.05,181.64 971.30,180.18 971.55,178.80 971.80,177.52 972.05,176.35 972.30,175.31 972.55,174.42 972.80,173.68 973.05,173.12 973.30,172.76 973.55,172.60 973.60,172.60 973.80,172.66 974.05,172.88 974.30,173.27 974.55,173.80 974.80,174.47 975.05,175.26 975.30,176.16 975.55,177.15 975.80,178.22 976.05,179.37 976.30,180.57 976.55,181.81 976.80,183.09 977.05,184.38 977.30,185.68 977.55,186.97 977.80,188.24 978.05,189.48 978.30,190.67 978.55,191.80 978.80,192.86 979.05,193.83 979.30,194.71 979.55,195.47 979.80,196.11 980.05,196.62 980.30,196.97 980.55,197.17 980.70,197.20 980.80,197.18 981.05,196.94 981.30,196.46 981.55,195.79 981.80,194.96 982.05,194.00 982.30,192.94 982.55,191.83 982.80,190.70 983.05,189.58 983.30,188.51 983.55,187.53 983.80,186.66 984.05,185.95 984.30,185.44 984.55,185.15 984.70,185.10 984.80,185.11 985.05,185.25 985.30,185.51 985.55,185.88 985.80,186.33 986.05,186.84 986.30,187.39 986.55,187.96 986.80,188.53 987.05,189.07 987.30,189.56 987.55,189.98 987.80,190.31 988.05,190.52 988.30,190.60 988.55,190.50 988.80,190.20 989.05,189.74 989.30,189.13 989.55,188.40 989.80,187.56 990.05,186.65 990.30,185.67 990.55,184.66 990.80,183.64 991.05,182.63 991.30,181.64 991.55,180.72 991.80,179.86 992.05,179.11 992.30,178.47 992.55,177.98 992.80,177.65 993.05,177.50 993.10,177.50 993.30,177.56 993.55,177.79 993.80,178.19 994.05,178.73 994.30,179.40 994.55,180.18 994.80,181.06 995.05,182.02 995.30,183.05 995.55,184.12 995.80,185.23 996.05,186.35 996.30,187.47 996.55,188.58 996.80,189.65 997.05,190.68 997.30,191.64 997.55,192.52 997.80,193.30 998.05,193.97 998.30,194.51 998.55,194.91 998.80,195.14 999.00,195.20 999.05,195.20 999.30,195.15 999.55,195.03 999.80,194.84"/>
<polyline fill="none" stroke="#77ac30" stroke-width="2.8" stroke-linejoin="round" stroke-linecap="round" points="999.55,195.03 999.80,194.84 1000.05,194.60 1000.30,194.29 1000.55,193.94 1000.80,193.53 1001.05,193.08 1001.30,192.60 1001.55,192.07 1001.80,191.52 1002.05,190.93 1002.30,190.33 1002.55,189.70 1002.80,189.06 1003.05,188.41 1003.30,187.75 1003.55,187.09 1003.80,186.43 1004.05,185.77 1004.30,185.13 1004.55,184.50 1004.80,183.89 1005.05,183.30 1005.30,182.74 1005.55,182.21 1005.80,181.71 1006.05,181.25 1006.30,180.84 1006.55,180.47 1006.80,180.16 1007.05,179.90 1007.30,179.70 1007.55,179.57 1007.80,179.51 1007.90,179.50 1008.05,179.53 1008.30,179.71 1008.55,180.04 1008.80,180.50 1009.05,181.06 1009.30,181.72 1009.55,182.45 1009.80,183.24 1010.05,184.06 1010.30,184.90 1010.55,185.74 1010.80,186.56 1011.05,187.35 1011.30,188.08 1011.55,188.74 1011.80,189.30 1012.05,189.76 1012.30,190.09 1012.55,190.27 1012.70,190.30 1012.80,190.30 1013.05,190.25 1013.30,190.14 1013.55,190.00 1013.80,189.81 1014.05,189.59 1014.30,189.34 1014.55,189.06 1014.80,188.77 1015.05,188.46 1015.30,188.14 1015.55,187.82 1015.80,187.50 1016.05,187.19 1016.30,186.90 1016.55,186.62 1016.80,186.36 1017.05,186.13 1017.30,185.94 1017.55,185.78 1017.80,185.67 1018.05,185.61 1018.20,185.60 1018.30,185.60 1018.55,185.65 1018.80,185.75 1019.05,185.90 1019.30,186.08 1019.55,186.29 1019.80,186.54 1020.05,186.81 1020.30,187.09 1020.55,187.39 1020.80,187.69 1021.05,187.99 1021.30,188.29 1021.55,188.58 1021.80,188.86 1022.05,189.11 1022.30,189.34 1022.55,189.54 1022.80,189.69 1023.05,189.81 1023.30,189.88 1023.50,189.90 1023.55,189.90 1023.80,189.81 1024.05,189.62 1024.30,189.33 1024.55,188.96 1024.80,188.51 1025.05,188.02 1025.30,187.48 1025.55,186.90 1025.80,186.32 1026.05,185.73 1026.30,185.15 1026.55,184.60 1026.80,184.08 1027.05,183.61 1027.30,183.21 1027.55,182.89 1027.80,182.65 1028.05,182.52 1028.20,182.50 1028.30,182.50 1028.55,182.53 1028.80,182.58 1029.05,182.66 1029.30,182.77 1029.55,182.89 1029.80,183.04 1030.05,183.20 1030.30,183.37 1030.55,183.56 1030.80,183.76 1031.05,183.97 1031.30,184.18 1031.55,184.39 1031.80,184.61 1032.05,184.83 1032.30,185.04 1032.55,185.25 1032.80,185.45 1033.00,185.60 1033.05,185.64 1033.30,185.85 1033.55,186.08 1033.80,186.34 1034.05,186.61 1034.30,186.90 1034.55,187.20 1034.80,187.49 1035.05,187.79 1035.30,188.08 1035.55,188.36 1035.80,188.62 1036.05,188.86 1036.30,189.07 1036.55,189.26 1036.80,189.41 1037.05,189.52 1037.30,189.58 1037.50,189.60 1037.55,189.60 1037.80,189.58 1038.05,189.54 1038.30,189.47 1038.55,189.38 1038.80,189.26 1039.05,189.12 1039.30,188.95 1039.50,188.80"/>
<polygon fill="#77ac30" stroke="#77ac30" stroke-width="0.5" stroke-linejoin="round" points="275.60,200.00 275.80,181.00 276.50,154.00 277.40,145.00 277.50,131.00 278.20,128.00 279.00,125.40 281.40,125.40 281.90,127.50 282.90,133.70 283.90,140.50 284.90,145.00 285.60,154.00 286.40,166.00 287.30,181.00 288.60,194.50 288.90,208.00 289.50,214.00 289.80,212.00 290.10,205.00 290.00,181.00 291.30,160.00 292.60,150.00 292.60,122.00 293.00,120.00 293.60,111.00 294.20,110.20 295.80,110.20 296.30,111.00 297.00,114.80 297.70,116.00 298.70,127.00 299.00,139.00 300.70,148.50 301.00,154.00 302.40,160.00 303.80,181.00 305.10,190.00 306.20,208.00 306.50,213.00 306.00,220.00 306.90,191.00 307.80,160.00 307.90,135.00 309.30,133.00 309.40,112.40 310.40,109.40 310.50,79.40 311.20,77.40 312.70,77.40 313.50,79.40 313.60,94.40 314.50,96.40 314.60,115.40 315.30,117.40 315.50,133.00 315.80,135.00 315.90,158.00 316.60,157.70 318.00,153.70 319.20,153.70 320.20,161.70 321.20,190.00 321.50,208.00 322.00,220.00 322.40,220.00 323.30,191.00 323.70,160.00 323.80,115.20 325.20,113.20 325.30,90.20 326.30,87.20 326.40,57.20 327.10,55.20 328.60,55.20 329.40,57.20 329.50,72.20 330.40,74.20 330.50,93.20 331.20,95.20 331.40,113.20 331.70,115.20 331.80,158.00 332.50,164.20 333.90,160.20 335.10,160.20 336.10,168.20 337.10,190.00 337.90,208.00 338.40,220.00 338.80,220.00 339.70,191.00 340.30,160.00 340.40,129.30 341.80,127.30 341.90,104.30 342.90,101.30 343.00,71.30 343.70,69.30 345.20,69.30 346.00,71.30 346.10,86.30 347.00,88.30 347.10,107.30 347.80,109.30 348.00,127.30 348.30,129.30 348.40,158.00 349.10,172.30 350.50,168.30 351.70,168.30 352.70,176.30 353.70,190.00 354.30,208.00 354.80,220.00 355.20,220.00 356.10,191.00 356.80,160.00 356.90,135.00 358.30,133.00 358.40,111.10 359.40,108.10 359.50,78.10 360.20,76.10 361.70,76.10 362.50,78.10 362.60,93.10 363.50,95.10 363.60,114.10 364.30,116.10 364.50,133.00 364.80,135.00 364.90,158.00 365.60,171.80 367.00,167.80 368.20,167.80 369.20,175.80 370.20,190.00 370.70,208.00 371.20,220.00 371.60,220.00 372.50,191.00 373.20,160.00 373.30,123.20 374.70,121.20 374.80,98.20 375.80,95.20 375.90,65.20 376.60,63.20 378.10,63.20 378.90,65.20 379.00,80.20 379.90,82.20 380.00,101.20 380.70,103.20 380.90,121.20 381.20,123.20 381.30,158.00 382.00,168.20 383.40,164.20 384.60,164.20 385.60,172.20 386.60,190.00 387.40,208.00 387.90,220.00 388.30,220.00 389.20,191.00 389.60,160.00 389.70,130.10 391.10,128.10 391.20,105.10 392.20,102.10 392.30,72.10 393.00,70.10 394.50,70.10 395.30,72.10 395.40,87.10 396.30,89.10 396.40,108.10 397.10,110.10 397.30,128.10 397.60,130.10 397.70,158.00 398.40,158.60 399.80,154.60 401.00,154.60 402.00,162.60 403.00,190.00 404.60,208.00 405.10,220.00 405.50,220.00 406.40,191.00 406.50,160.00 406.60,127.00 408.00,125.00 408.10,102.00 409.10,99.00 409.20,69.00 409.90,67.00 411.40,67.00 412.20,69.00 412.30,84.00 413.20,86.00 413.30,105.00 414.00,107.00 414.20,125.00 414.50,127.00 414.60,158.00 415.30,164.20 416.70,160.20 417.90,160.20 418.90,168.20 419.90,190.00 421.50,208.00 422.00,220.00 422.40,220.00 423.30,191.00 423.70,160.00 423.80,127.00 425.20,125.00 425.30,102.00 426.30,99.00 426.40,69.00 427.10,67.00 428.60,67.00 429.40,69.00 429.50,84.00 430.40,86.00 430.50,105.00 431.20,107.00 431.40,125.00 431.70,127.00 431.80,158.00 432.50,166.70 433.90,162.70 435.10,162.70 436.10,170.70 437.10,190.00 437.40,208.00 437.90,220.00 438.30,220.00 439.20,191.00 440.10,160.00 440.20,135.00 441.60,133.00 441.70,121.20 442.70,118.20 442.80,88.20 443.50,86.20 445.00,86.20 445.80,88.20 445.90,103.20 446.80,105.20 446.90,124.20 447.60,126.20 447.80,133.00 448.10,135.00 448.20,158.00 448.90,161.10 450.30,157.10 451.50,157.10 452.50,165.10 453.50,190.00 454.10,208.00 454.60,220.00 455.00,220.00 455.90,191.00 456.80,160.00 456.90,132.30 458.30,130.30 458.40,107.30 459.40,104.30 459.50,74.30 460.20,72.30 461.70,72.30 462.50,74.30 462.60,89.30 463.50,91.30 463.60,110.30 464.30,112.30 464.50,130.30 464.80,132.30 464.90,158.00 465.60,164.00 467.00,160.00 468.20,160.00 469.20,168.00 470.20,190.00 471.00,208.00 471.50,220.00 471.80,227.00 472.00,214.00 472.60,191.00 474.90,166.00 475.10,124.20 475.70,122.20 475.80,99.20 476.80,96.20 476.90,66.20 477.60,64.20 479.10,64.20 479.90,66.20 480.00,81.20 480.70,83.20 480.80,109.20 481.00,132.00 482.70,145.00 485.60,151.00 486.60,162.00 486.90,173.00 487.50,190.00 487.90,214.00 488.20,227.00 488.50,227.00 488.70,214.00 489.30,191.00 491.50,166.00 491.70,135.00 492.30,133.00 492.40,116.20 493.40,113.20 493.50,83.20 494.20,81.20 495.70,81.20 496.50,83.20 496.60,98.20 497.30,100.20 497.40,126.20 497.60,132.00 499.30,145.00 502.20,151.00 503.20,162.00 503.50,173.00 504.60,190.00 505.00,214.00 505.30,227.00 505.60,227.00 505.80,214.00 506.40,191.00 509.00,166.00 509.20,135.00 509.80,133.00 509.90,114.10 510.90,111.10 511.00,81.10 511.70,79.10 513.20,79.10 514.00,81.10 514.10,96.10 514.80,98.10 514.90,124.10 515.10,132.00 516.80,145.00 519.70,151.00 520.70,162.00 521.00,173.00 521.50,190.00 521.90,214.00 522.20,227.00 522.50,227.00 522.70,214.00 523.30,191.00 525.90,166.00 526.10,135.00 526.70,133.00 526.80,123.00 527.80,120.00 527.90,90.00 528.60,88.00 530.10,88.00 530.90,90.00 531.00,105.00 531.70,107.00 531.80,133.00 532.00,132.00 533.70,145.00 536.60,151.00 537.60,162.00 537.90,173.00 538.50,190.00 538.90,214.00 539.20,227.00 539.50,227.00 539.70,214.00 540.30,191.00 543.60,166.00 543.80,135.00 544.40,133.00 544.50,120.00 545.50,117.00 545.60,87.00 546.30,85.00 547.80,85.00 548.60,87.00 548.70,102.00 549.40,104.00 549.50,130.00 549.70,132.00 551.40,145.00 554.30,151.00 555.30,162.00 555.60,173.00 556.70,190.00 557.10,214.00 557.40,227.00 561.90,228.00 561.60,249.10 560.90,265.10 560.20,277.60 559.30,279.10 558.40,277.60 557.70,267.10 555.90,240.00 554.50,214.00 554.00,202.00 553.40,195.00 552.80,193.00 552.40,199.00 551.20,201.00 549.90,199.00 549.60,190.00 548.50,178.00 547.50,168.00 547.40,160.00 547.30,168.00 546.50,175.00 546.30,185.00 544.60,198.00 544.40,214.00 543.70,255.00 543.40,266.40 542.50,269.40 542.20,287.90 541.10,289.40 540.00,287.90 539.70,269.40 538.80,266.40 538.10,255.00 536.30,214.00 536.30,202.00 535.70,195.00 535.10,193.00 534.70,199.00 533.50,201.00 532.20,199.00 531.90,190.00 530.80,178.00 529.80,168.00 529.70,160.00 529.60,168.00 528.80,175.00 528.60,185.00 527.60,198.00 527.40,214.00 526.70,255.00 526.40,265.10 525.50,268.10 525.20,286.60 524.10,288.10 523.00,286.60 522.70,268.10 521.80,265.10 521.10,255.00 519.30,214.00 519.40,202.00 518.80,195.00 518.20,193.00 517.80,199.00 516.60,201.00 515.30,199.00 515.00,190.00 513.90,178.00 512.90,168.00 512.80,160.00 512.70,168.00 511.90,175.00 511.70,185.00 510.70,198.00 510.50,214.00 509.80,255.00 509.50,269.20 508.60,272.20 508.30,290.70 507.20,292.20 506.10,290.70 505.80,272.20 504.90,269.20 504.20,255.00 502.40,214.00 501.90,202.00 501.30,195.00 500.70,193.00 500.30,199.00 499.10,201.00 497.80,199.00 497.50,190.00 496.40,178.00 495.40,168.00 495.30,160.00 495.20,168.00 494.40,175.00 494.20,185.00 493.60,198.00 493.40,214.00 492.70,255.00 492.40,286.30 491.50,289.30 491.20,307.80 490.10,309.30 489.00,307.80 488.70,289.30 487.80,286.30 487.10,255.00 485.30,214.00 485.30,202.00 484.70,195.00 484.10,193.00 483.70,199.00 482.50,201.00 481.20,199.00 480.90,190.00 479.80,178.00 478.80,168.00 478.70,160.00 478.60,168.00 477.80,175.00 477.60,185.00 476.90,198.00 476.70,214.00 476.00,255.00 475.70,282.30 474.80,285.30 474.50,303.80 473.40,305.30 472.30,303.80 472.00,285.30 471.10,282.30 470.40,255.00 468.50,214.00 465.60,201.00 463.70,190.00 462.60,172.00 461.80,165.00 461.60,154.00 461.40,165.00 460.60,172.00 460.40,190.00 460.10,214.00 459.10,255.00 458.80,274.00 457.90,277.00 457.60,295.50 456.50,297.00 455.40,295.50 455.10,277.00 454.20,274.00 453.50,255.00 451.60,214.00 448.90,201.00 447.00,190.00 445.90,172.00 445.10,165.00 444.90,154.00 444.70,165.00 443.90,172.00 443.70,190.00 443.40,214.00 442.40,255.00 442.10,273.20 441.20,276.20 440.90,294.70 439.80,296.20 438.70,294.70 438.40,276.20 437.50,273.20 436.80,255.00 434.90,214.00 432.50,201.00 430.60,190.00 429.50,172.00 428.70,165.00 428.50,154.00 428.30,165.00 427.50,172.00 427.30,190.00 427.50,214.00 426.50,255.00 426.20,284.30 425.30,287.30 425.00,305.80 423.90,307.30 422.80,305.80 422.50,287.30 421.60,284.30 420.90,255.00 419.00,214.00 415.30,201.00 413.40,190.00 412.30,172.00 411.50,165.00 411.30,154.00 411.10,165.00 410.30,172.00 410.10,190.00 410.60,214.00 409.60,255.00 409.30,282.30 408.40,285.30 408.10,303.80 407.00,305.30 405.90,303.80 405.60,285.30 404.70,282.30 404.00,255.00 402.10,214.00 398.40,201.00 396.50,190.00 395.40,172.00 394.60,165.00 394.40,154.00 394.20,165.00 393.40,172.00 393.20,190.00 393.40,214.00 392.40,255.00 392.10,278.30 391.20,281.30 390.90,299.80 389.80,301.30 388.70,299.80 388.40,281.30 387.50,278.30 386.80,255.00 384.90,214.00 382.00,201.00 380.10,190.00 379.00,172.00 378.20,165.00 378.00,154.00 377.80,165.00 377.00,172.00 376.80,190.00 376.70,214.00 375.70,255.00 375.40,285.30 374.50,288.30 374.20,306.80 373.10,308.30 372.00,306.80 371.70,288.30 370.80,285.30 370.10,255.00 368.20,214.00 365.60,201.00 363.70,190.00 362.60,172.00 361.80,165.00 361.60,154.00 361.40,165.00 360.60,172.00 360.40,190.00 360.30,214.00 359.30,255.00 359.00,287.40 358.10,290.40 357.80,308.90 356.70,310.40 355.60,308.90 355.30,290.40 354.40,287.40 353.70,255.00 351.80,214.00 349.10,201.00 347.20,190.00 346.10,172.00 345.30,165.00 345.10,154.00 344.90,165.00 344.10,172.00 343.90,190.00 343.90,214.00 342.90,255.00 342.60,280.30 341.70,283.30 341.40,301.80 340.30,303.30 339.20,301.80 338.90,283.30 338.00,280.30 337.30,255.00 335.40,214.00 332.50,201.00 330.60,190.00 329.50,172.00 328.70,165.00 328.50,154.00 328.30,165.00 327.50,172.00 327.30,190.00 327.50,214.00 326.50,255.00 326.20,279.80 325.30,282.80 325.00,301.30 323.90,302.80 322.80,301.30 322.50,282.80 321.60,279.80 320.90,255.00 319.00,214.00 316.60,201.00 314.70,190.00 313.60,172.00 312.80,165.00 312.60,154.00 312.40,165.00 311.60,172.00 311.40,190.00 311.10,214.00 310.10,255.00 309.80,277.30 308.90,280.30 308.60,298.80 307.50,300.30 306.40,298.80 306.10,280.00 305.20,277.00 304.50,255.00 303.00,208.00 301.50,200.00 300.00,206.00 299.00,200.00 297.70,181.00 297.00,172.00 296.50,165.00 296.30,157.40 296.10,165.00 295.70,172.00 295.00,190.00 294.40,214.00 293.40,255.00 293.10,268.00 292.20,271.00 291.90,293.70 290.80,295.20 289.70,293.70 289.40,271.00 288.40,268.00 287.80,255.00 286.20,208.00 285.60,197.80 282.20,186.00 281.20,181.00 280.20,170.00 279.50,164.00 278.90,170.00 278.20,181.00 276.90,200.00"/>
<polygon fill="#77ac30" stroke="#77ac30" stroke-width="0.5" stroke-linejoin="round" points="562.61,168.00 562.80,161.49 563.00,150.00 563.05,134.81 563.10,120.00 563.30,112.35 563.55,108.53 563.60,108.00 563.80,106.49 564.05,105.44 564.30,103.62 564.35,103.00 564.55,91.51 564.60,90.30 564.80,98.00 564.80,98.00 565.05,99.95 565.30,100.83 565.55,101.84 565.70,103.00 565.80,104.88 566.05,112.14 566.10,113.00 566.30,115.11 566.55,116.90 566.80,118.45 567.00,120.00 567.05,120.46 567.30,122.82 567.55,125.30 567.80,127.91 568.05,130.66 568.30,133.56 568.55,136.63 568.80,139.88 569.05,143.31 569.30,146.94 569.50,150.00 569.55,150.80 569.80,155.31 570.05,160.50 570.30,166.16 570.38,168.00 566.50,162.00"/>
<polygon fill="#77ac30" stroke="#77ac30" stroke-width="0.5" stroke-linejoin="round" points="580.37,166.00 580.55,158.97 580.70,150.00 580.80,122.10 581.05,113.38 581.30,110.10 581.55,108.35 581.80,107.30 582.05,105.10 582.30,92.40 582.50,100.10 582.55,100.63 582.80,102.28 583.05,103.09 583.30,104.26 583.40,105.10 583.55,108.40 583.80,115.10 584.05,117.63 584.30,119.34 584.55,120.92 584.70,122.10 584.80,122.99 585.05,125.27 585.30,127.61 585.55,130.04 585.80,132.58 586.05,135.26 586.30,138.10 586.55,141.12 586.80,144.35 587.05,147.81 587.20,150.00 587.30,151.58 587.55,156.26 587.80,161.70 587.98,166.00 584.18,160.00"/>
<polygon fill="#77ac30" stroke="#77ac30" stroke-width="0.5" stroke-linejoin="round" points="598.55,147.00 598.55,146.89 598.80,132.20 599.05,124.70 599.30,120.20 599.55,118.45 599.80,117.40 600.05,115.20 600.30,102.50 600.50,110.20 600.55,110.73 600.80,112.38 601.05,113.19 601.30,114.36 601.40,115.20 601.55,118.50 601.80,125.20 602.05,127.60 602.30,129.12 602.55,130.75 602.70,132.20 602.80,133.60 603.05,138.99 603.30,146.27 603.32,147.00 600.94,141.00"/>
<polygon fill="#77ac30" stroke="#77ac30" stroke-width="0.5" stroke-linejoin="round" points="616.58,150.00 616.80,134.90 616.90,130.40 617.05,125.63 617.30,119.79 617.40,118.40 617.55,117.16 617.80,116.05 618.05,114.53 618.15,113.40 618.30,104.85 618.40,100.70 618.55,106.87 618.60,108.40 618.80,110.09 619.05,111.08 619.30,111.97 619.50,113.40 619.55,114.14 619.80,121.31 619.90,123.40 620.05,125.00 620.30,126.75 620.55,128.21 620.80,130.40 621.05,134.87 621.30,141.79 621.55,150.00 619.06,144.00"/>
<polygon fill="#77ac30" stroke="#77ac30" stroke-width="0.5" stroke-linejoin="round" points="634.76,145.00 634.80,141.72 635.05,123.44 635.10,121.30 635.30,115.04 635.55,109.92 635.60,109.30 635.80,107.79 636.05,106.74 636.30,104.92 636.35,104.30 636.55,92.81 636.60,91.60 636.80,99.30 636.80,99.30 637.05,101.25 637.30,102.13 637.55,103.14 637.70,104.30 637.80,106.18 638.05,113.44 638.10,114.30 638.30,116.33 638.55,117.95 638.80,119.48 639.00,121.30 639.05,121.93 639.30,126.70 639.55,133.52 639.80,141.55 639.90,145.00 637.33,139.00"/>
<polygon fill="#77ac30" stroke="#77ac30" stroke-width="0.5" stroke-linejoin="round" points="653.32,145.00 653.55,130.11 653.60,128.10 653.80,121.92 654.05,116.72 654.10,116.10 654.30,114.59 654.55,113.54 654.80,111.72 654.85,111.10 655.05,99.61 655.10,98.40 655.30,106.10 655.30,106.10 655.55,108.05 655.80,108.93 656.05,109.94 656.20,111.10 656.30,112.98 656.55,120.24 656.60,121.10 656.80,123.14 657.05,124.78 657.30,126.31 657.50,128.10 657.55,128.71 657.80,133.07 658.05,139.15 658.26,145.00 655.79,139.00"/>
<polygon fill="#77ac30" stroke="#77ac30" stroke-width="0.5" stroke-linejoin="round" points="671.83,136.00 672.00,127.10 672.05,125.41 672.30,118.45 672.50,115.10 672.55,114.61 672.80,113.14 673.05,112.01 673.25,110.10 673.30,108.35 673.50,97.40 673.55,98.49 673.70,105.10 673.80,106.09 674.05,107.47 674.30,108.25 674.55,109.64 674.60,110.10 674.80,114.96 675.00,120.10 675.05,120.70 675.30,122.87 675.55,124.35 675.80,126.11 675.90,127.10 676.05,129.19 676.30,134.25 676.37,136.00 674.10,130.00"/>
<polygon fill="#77ac30" stroke="#77ac30" stroke-width="0.5" stroke-linejoin="round" points="690.76,128.00 690.80,124.91 690.90,120.00 691.05,115.13 691.30,109.37 691.40,108.00 691.55,106.76 691.80,105.65 692.05,104.13 692.15,103.00 692.30,94.45 692.40,90.30 692.55,96.47 692.60,98.00 692.80,99.69 693.05,100.68 693.30,101.57 693.50,103.00 693.55,103.74 693.80,110.91 693.90,113.00 694.05,114.61 694.30,116.36 694.55,117.83 694.80,120.00 695.05,124.28 695.19,128.00 692.98,122.00"/>
<polygon fill="#77ac30" stroke="#77ac30" stroke-width="0.5" stroke-linejoin="round" points="709.83,118.00 709.90,114.20 710.05,109.28 710.30,103.56 710.40,102.20 710.55,100.96 710.80,99.85 711.05,98.33 711.15,97.20 711.30,88.65 711.40,84.50 711.55,90.67 711.60,92.20 711.80,93.89 712.05,94.88 712.30,95.77 712.50,97.20 712.55,97.94 712.80,105.11 712.90,107.20 713.05,108.80 713.30,110.55 713.55,112.01 713.80,114.20 714.01,118.00 711.92,112.00"/>
<polygon fill="#77ac30" stroke="#77ac30" stroke-width="0.5" stroke-linejoin="round" points="728.89,110.50 729.05,105.64 729.30,101.20 729.55,99.45 729.80,98.40 730.05,96.20 730.30,83.50 730.50,91.20 730.55,91.73 730.80,93.38 731.05,94.19 731.30,95.36 731.40,96.20 731.55,99.50 731.80,106.20 732.05,108.60 732.30,110.11 732.36,110.50 730.62,104.50"/>
<polygon fill="#77ac30" stroke="#77ac30" stroke-width="0.5" stroke-linejoin="round" points="748.18,113.00 748.30,109.63 748.50,106.30 748.55,105.81 748.80,104.34 749.05,103.21 749.25,101.30 749.30,99.55 749.50,88.60 749.55,89.69 749.70,96.30 749.80,97.29 750.05,98.67 750.30,99.45 750.55,100.84 750.60,101.30 750.80,106.16 751.00,111.30 751.05,111.90 751.18,113.00 749.68,107.00"/>
<polygon fill="#77ac30" stroke="#77ac30" stroke-width="0.5" stroke-linejoin="round" points="767.56,110.50 767.70,108.30 767.80,107.40 768.05,106.15 768.30,104.86 768.45,103.30 768.55,98.34 768.70,90.60 768.80,94.16 768.90,98.30 769.05,99.67 769.30,100.83 769.55,101.64 769.80,103.30 769.80,103.30 770.05,109.74 770.08,110.50 768.82,104.50"/>
<polygon fill="#77ac30" stroke="#77ac30" stroke-width="0.5" stroke-linejoin="round" points="787.38,120.60 787.40,120.00 787.55,113.85 787.80,102.51 788.05,95.64 788.10,95.40 788.30,97.69 788.55,104.74 788.80,112.58 788.90,115.00 789.05,117.95 789.20,120.60 788.29,114.60"/>
<polygon fill="#77ac30" stroke="#77ac30" stroke-width="0.5" stroke-linejoin="round" points="806.73,130.70 806.80,129.26 807.00,125.00 807.05,123.82 807.30,116.56 807.55,109.61 807.80,106.50 808.05,108.37 808.30,112.71 808.55,117.60 808.70,120.00 808.80,121.29 809.05,124.20 809.30,127.03 809.55,130.26 809.58,130.70 808.15,124.70"/>
<polygon fill="#77ac30" stroke="#77ac30" stroke-width="0.5" stroke-linejoin="round" points="826.16,135.80 826.30,131.00 826.55,125.39 826.80,120.23 827.05,116.03 827.30,113.33 827.50,112.60 827.55,112.65 827.80,114.10 828.05,117.15 828.30,121.16 828.55,125.52 828.80,129.59 828.90,131.00 828.05,117.15 828.30,121.16 828.55,125.52 828.80,129.59 828.90,131.00 829.05,132.94 829.28,135.80 827.72,129.80"/>
<polygon fill="#77ac30" stroke="#77ac30" stroke-width="0.5" stroke-linejoin="round" points="846.25,138.00 846.30,136.94 846.55,131.99 846.60,131.00 846.80,126.27 847.05,120.16 847.30,117.30 847.55,117.96 847.80,119.76 848.05,122.38 848.30,125.55 848.55,128.96 848.70,131.00 848.80,132.46 849.05,136.98 849.10,138.00 847.67,132.00"/>
<polygon fill="#77ac30" stroke="#77ac30" stroke-width="0.5" stroke-linejoin="round" points="865.86,140.00 866.05,134.87 866.30,128.67 866.55,123.55 866.80,120.22 867.00,119.30 867.05,119.32 867.30,120.01 867.55,121.51 867.80,123.62 868.05,126.13 868.30,128.84 868.50,131.00 868.55,131.54 868.80,134.62 869.05,138.25 869.16,140.00 867.51,134.00"/>
<polygon fill="#77ac30" stroke="#77ac30" stroke-width="0.5" stroke-linejoin="round" points="573.35,226.00 573.55,229.20 573.80,233.16 574.05,236.99 574.30,240.68 574.55,244.22 574.80,247.60 575.05,250.68 575.30,253.43 575.55,256.05 575.80,258.72 576.05,261.65 576.20,263.60 576.30,265.20 576.55,270.40 576.80,275.08 577.00,276.60 577.05,276.51 577.30,273.83 577.55,268.87 577.80,263.60 578.05,258.93 578.30,253.48 578.50,247.60 578.55,245.59 578.80,228.71 578.83,226.00 576.09,230.00"/>
<polygon fill="#77ac30" stroke="#77ac30" stroke-width="0.5" stroke-linejoin="round" points="591.65,226.00 591.80,227.82 592.05,230.77 592.30,233.73 592.55,236.70 592.80,239.70 593.05,242.59 593.30,245.30 593.55,247.97 593.80,250.73 594.05,253.73 594.20,255.70 594.30,257.30 594.55,262.50 594.80,267.18 595.00,268.70 595.05,268.49 595.30,262.95 595.55,255.01 595.60,253.74 595.80,249.36 596.05,244.19 596.30,238.78 596.55,233.19 596.80,227.52 596.86,226.00 594.25,230.00"/>
<polygon fill="#77ac30" stroke="#77ac30" stroke-width="0.5" stroke-linejoin="round" points="610.07,226.00 610.30,228.07 610.55,230.42 610.80,232.92 610.88,233.81 611.05,235.66 611.30,238.72 611.55,242.02 611.80,245.44 612.05,248.87 612.11,249.63 612.30,252.77 612.55,257.30 612.80,260.37 612.90,260.70 613.05,259.07 613.30,252.01 613.50,246.30 613.55,245.21 613.80,240.08 614.05,235.08 614.20,231.90 614.30,229.70 614.47,226.00 612.27,230.00"/>
<polygon fill="#77ac30" stroke="#77ac30" stroke-width="0.5" stroke-linejoin="round" points="627.84,226.00 628.05,227.78 628.30,230.00 628.55,232.34 628.80,234.81 629.05,237.45 629.07,237.65 629.30,240.37 629.55,243.61 629.80,247.07 630.05,250.62 630.30,254.15 630.30,254.15 630.55,258.48 630.80,263.03 631.05,265.61 631.10,265.70 631.30,262.71 631.55,254.52 631.70,250.03 631.80,247.68 632.05,242.18 632.30,236.70 632.40,234.36 632.55,230.77 632.75,226.00 630.29,230.00"/>
<polygon fill="#77ac30" stroke="#77ac30" stroke-width="0.5" stroke-linejoin="round" points="647.02,226.00 647.05,226.32 647.30,228.77 647.55,231.37 647.60,231.95 647.80,234.21 648.05,237.38 648.30,240.78 648.55,244.30 648.80,247.82 648.87,248.86 649.05,251.74 649.30,256.44 649.55,259.98 649.70,260.70 649.80,259.93 650.05,253.50 650.30,246.09 650.30,246.09 650.55,240.79 650.80,235.75 651.00,231.49 651.05,230.37 651.25,226.00 649.13,230.00"/>
<polygon fill="#77ac30" stroke="#77ac30" stroke-width="0.5" stroke-linejoin="round" points="665.52,226.00 665.55,226.29 665.80,228.52 666.05,230.88 666.27,233.11 666.30,233.40 666.55,236.20 666.80,239.27 667.05,242.53 667.30,245.86 667.55,249.18 667.56,249.34 667.80,253.16 668.05,257.52 668.30,260.39 668.40,260.70 668.55,259.04 668.80,251.83 669.00,246.00 669.05,244.89 669.30,239.65 669.55,234.55 669.70,231.31 669.80,229.12 669.95,226.00 667.73,230.00"/>
<polygon fill="#77ac30" stroke="#77ac30" stroke-width="0.5" stroke-linejoin="round" points="683.71,226.00 683.80,226.74 684.05,228.84 684.30,231.04 684.55,233.36 684.80,235.81 684.92,237.09 685.05,238.45 685.30,241.41 685.55,244.60 685.80,247.94 686.05,251.33 686.24,253.92 686.30,254.72 686.55,259.05 686.80,263.28 687.05,265.62 687.10,265.70 687.30,262.69 687.55,254.43 687.70,249.91 687.80,247.55 688.05,242.01 688.30,236.48 688.40,234.13 688.55,230.57 688.74,226.00 686.23,230.00"/>
<polygon fill="#77ac30" stroke="#77ac30" stroke-width="0.5" stroke-linejoin="round" points="702.30,226.00 702.55,228.18 702.80,230.46 703.05,232.84 703.30,235.35 703.55,238.02 703.66,239.20 703.80,240.90 704.05,244.12 704.30,247.60 704.55,251.22 704.80,254.88 704.96,257.14 705.05,258.64 705.30,263.44 705.55,267.80 705.80,269.70 706.05,264.99 706.30,256.05 706.40,253.03 706.55,249.33 706.80,243.54 707.05,237.62 707.10,236.36 707.30,231.24 707.50,226.00 704.90,230.00"/>
<polygon fill="#77ac30" stroke="#77ac30" stroke-width="0.5" stroke-linejoin="round" points="721.96,226.00 722.05,226.90 722.30,229.58 722.40,230.75 722.55,232.48 722.80,235.72 723.05,239.22 723.30,242.87 723.55,246.55 723.67,248.37 723.80,250.43 724.05,255.31 724.30,259.41 724.50,260.70 724.55,260.48 724.80,254.57 725.05,246.10 725.10,244.75 725.30,240.08 725.55,234.57 725.80,228.80 725.91,226.00 723.94,230.00"/>
<polygon fill="#77ac30" stroke="#77ac30" stroke-width="0.5" stroke-linejoin="round" points="741.11,226.00 741.14,226.34 741.30,228.28 741.55,231.53 741.80,235.02 742.05,238.65 742.30,242.30 742.39,243.55 742.55,246.30 742.80,251.15 743.05,254.84 743.20,255.60 743.30,254.81 743.55,248.19 743.80,240.57 743.80,240.57 744.05,235.12 744.30,229.92 744.48,226.00 742.79,230.00"/>
<polygon fill="#77ac30" stroke="#77ac30" stroke-width="0.5" stroke-linejoin="round" points="760.24,219.60 760.30,220.17 760.50,222.23 760.55,222.71 760.80,225.56 761.05,228.68 761.30,231.97 761.55,235.33 761.77,238.33 761.80,238.67 762.05,242.87 762.30,247.13 762.55,249.52 762.60,249.60 762.80,246.87 763.05,239.39 763.20,235.29 763.30,233.15 763.55,228.12 763.80,223.11 763.90,220.98 763.96,219.60 762.10,223.60"/>
<polygon fill="#77ac30" stroke="#77ac30" stroke-width="0.5" stroke-linejoin="round" points="777.33,224.00 777.55,225.23 777.80,226.58 778.05,227.85 778.30,229.07 778.50,230.00 778.55,230.23 778.80,231.42 779.05,232.65 779.30,233.89 779.55,235.09 779.80,236.23 780.05,237.25 780.30,238.13 780.55,238.82 780.80,239.29 781.05,239.49 781.10,239.50 781.30,239.25 781.55,238.30 781.80,236.73 782.05,234.66 782.30,232.19 782.50,230.00 782.55,229.34 782.79,224.00 780.06,228.00"/>
<polygon fill="#77ac30" stroke="#77ac30" stroke-width="0.5" stroke-linejoin="round" points="796.01,221.00 796.05,221.56 796.30,224.18 796.40,225.00 796.55,226.10 796.80,227.91 797.05,229.63 797.30,231.21 797.55,232.58 797.80,233.69 798.05,234.47 798.30,234.86 798.40,234.90 798.55,234.78 798.80,234.12 799.05,233.00 799.30,231.54 799.55,229.87 799.80,228.14 800.05,226.47 800.30,225.00 800.55,223.73 800.80,222.54 801.05,221.39 801.13,221.00 798.57,225.00"/>
<text class="tk" transform="translate(82.2,372.0) scale(1,1.06)" text-anchor="middle">0</text>
<text class="tk" transform="translate(263.9,372.0) scale(1,1.06)" text-anchor="middle">0.05</text>
<text class="tk" transform="translate(445.5,372.0) scale(1,1.06)" text-anchor="middle">0.1</text>
<text class="tk" transform="translate(627.2,372.0) scale(1,1.06)" text-anchor="middle">0.15</text>
<text class="tk" transform="translate(808.9,372.0) scale(1,1.06)" text-anchor="middle">0.2</text>
<text class="tk" transform="translate(990.5,372.0) scale(1,1.06)" text-anchor="middle">0.25</text>
<text class="tk" transform="translate(1172.2,372.0) scale(1,1.06)" text-anchor="middle">0.3</text>
<text class="tk" transform="translate(74.8,32.9) scale(1,1.06)" text-anchor="end">0.2</text>
<text class="tk" transform="translate(74.8,73.0) scale(1,1.06)" text-anchor="end">0.15</text>
<text class="tk" transform="translate(74.8,113.2) scale(1,1.06)" text-anchor="end">0.1</text>
<text class="tk" transform="translate(74.8,153.3) scale(1,1.06)" text-anchor="end">0.05</text>
<text class="tk" transform="translate(74.8,193.4) scale(1,1.06)" text-anchor="end">0</text>
<text class="tk" transform="translate(74.8,233.5) scale(1,1.06)" text-anchor="end">-0.05</text>
<text class="tk" transform="translate(74.8,273.6) scale(1,1.06)" text-anchor="end">-0.1</text>
<text class="tk" transform="translate(74.8,313.8) scale(1,1.06)" text-anchor="end">-0.15</text>
<text class="tk" transform="translate(74.8,353.9) scale(1,1.06)" text-anchor="end">-0.2</text>
<text class="lb" x="627.5" y="397.5" text-anchor="middle">Time (s)</text>
<text class="lb" style="font-size:21.6px" transform="translate(17.5,186.2) rotate(-90) scale(1,1.04)" text-anchor="middle">Amplitude</text>
<text class="tt" transform="translate(627.3,17.4) scale(1,1.055)" text-anchor="middle">GEN-004-041-0004</text>
</svg>
</body></html>
